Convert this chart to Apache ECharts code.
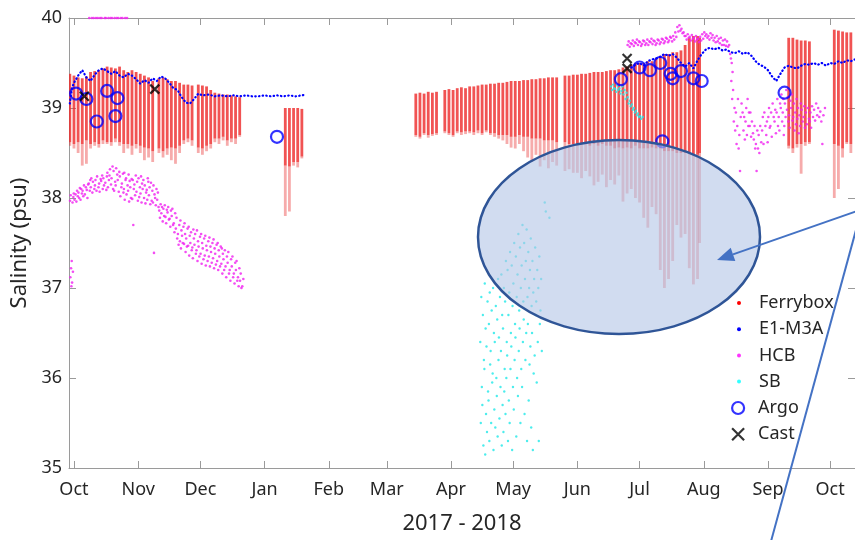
<!DOCTYPE html>
<html>
<head>
<meta charset="utf-8">
<script src="https://cdn.jsdelivr.net/npm/echarts@6/dist/echarts.min.js"></script>
<style>
  html, body { margin: 0; padding: 0; background: #fff; }
  #chart { width: 855px; height: 540px; }
</style>
</head>
<body>
<div id="chart"></div>
<script>
// x axis ticks (first of each month) and their labels
const monthTicks = ['2017-10-01', '2017-11-01', '2017-12-01', '2018-01-01', '2018-02-01', '2018-03-01',
  '2018-04-01', '2018-05-01', '2018-06-01', '2018-07-01', '2018-08-01', '2018-09-01', '2018-10-01'];
const monthLabels = ['Oct', 'Nov', 'Dec', 'Jan', 'Feb', 'Mar', 'Apr', 'May', 'Jun', 'Jul', 'Aug', 'Sep', 'Oct'];
const salinityTicks = [35, 36, 37, 38, 39, 40];

// Ferrybox crossings: [date, deepest value, bottom of dense part, top value]
const ferrybox = [
  ['2017-09-29', 38.58, 38.62, 39.38], ['2017-10-01', 38.55, 38.6, 39.36], ['2017-10-03', 38.5, 38.62, 39.34],
  ['2017-10-05', 38.36, 38.6, 39.33], ['2017-10-07', 38.38, 38.64, 39.35], ['2017-10-09', 38.55, 38.6, 39.4],
  ['2017-10-11', 38.58, 38.62, 39.41], ['2017-10-13', 38.56, 38.6, 39.42], ['2017-10-15', 38.6, 38.64, 39.44],
  ['2017-10-17', 38.6, 38.62, 39.46], ['2017-10-19', 38.58, 38.62, 39.45], ['2017-10-21', 38.62, 38.66, 39.44],
  ['2017-10-23', 38.58, 38.62, 39.46], ['2017-10-25', 38.5, 38.6, 39.42], ['2017-10-27', 38.55, 38.6, 39.4],
  ['2017-10-29', 38.48, 38.58, 39.42], ['2017-10-31', 38.55, 38.6, 39.4], ['2017-11-02', 38.5, 38.58, 39.38],
  ['2017-11-04', 38.42, 38.56, 39.36], ['2017-11-06', 38.45, 38.55, 39.34], ['2017-11-08', 38.4, 38.52, 39.3],
  ['2017-11-11', 38.5, 38.55, 39.33], ['2017-11-13', 38.45, 38.52, 39.34], ['2017-11-15', 38.48, 38.55, 39.32],
  ['2017-11-17', 38.42, 38.56, 39.3], ['2017-11-19', 38.38, 38.55, 39.3], ['2017-11-21', 38.5, 38.58, 39.28],
  ['2017-11-23', 38.6, 38.64, 39.26], ['2017-11-25', 38.62, 38.66, 39.26], ['2017-11-27', 38.58, 38.64, 39.25],
  ['2017-11-30', 38.5, 38.56, 39.26], ['2017-12-02', 38.48, 38.55, 39.25], ['2017-12-04', 38.52, 38.58, 39.24],
  ['2017-12-06', 38.55, 38.6, 39.2], ['2017-12-08', 38.62, 38.66, 39.17], ['2017-12-10', 38.6, 38.66, 39.16],
  ['2017-12-12', 38.64, 38.68, 39.15], ['2017-12-14', 38.58, 38.64, 39.15], ['2017-12-16', 38.62, 38.66, 39.14],
  ['2017-12-18', 38.6, 38.66, 39.13], ['2017-12-20', 38.68, 38.7, 39.12],
  ['2018-01-11', 37.8, 38.36, 39.0], ['2018-01-13', 37.85, 38.35, 39.0], ['2018-01-15', 38.36, 38.4, 39.0],
  ['2018-01-17', 38.34, 38.4, 39.0], ['2018-01-19', 38.44, 38.46, 38.99],
  ['2018-03-15', 38.68, 38.7, 39.16], ['2018-03-17', 38.66, 38.68, 39.17], ['2018-03-19', 38.7, 38.72, 39.16],
  ['2018-03-21', 38.67, 38.7, 39.18], ['2018-03-23', 38.69, 38.71, 39.17], ['2018-03-25', 38.7, 38.72, 39.18],
  ['2018-03-29', 38.72, 38.74, 39.2], ['2018-03-31', 38.7, 38.72, 39.21], ['2018-04-02', 38.68, 38.7, 39.2],
  ['2018-04-04', 38.72, 38.74, 39.22], ['2018-04-06', 38.7, 38.73, 39.23], ['2018-04-08', 38.71, 38.74, 39.22],
  ['2018-04-10', 38.72, 38.74, 39.24], ['2018-04-12', 38.7, 38.73, 39.24], ['2018-04-14', 38.72, 38.75, 39.25],
  ['2018-04-16', 38.7, 38.72, 39.26], ['2018-04-18', 38.73, 38.75, 39.26], ['2018-04-20', 38.7, 38.72, 39.27],
  ['2018-04-22', 38.68, 38.72, 39.27], ['2018-04-24', 38.66, 38.7, 39.28], ['2018-04-26', 38.64, 38.7, 39.28],
  ['2018-04-28', 38.6, 38.7, 39.29], ['2018-04-30', 38.56, 38.68, 39.3], ['2018-05-02', 38.55, 38.68, 39.3],
  ['2018-05-04', 38.6, 38.7, 39.3], ['2018-05-06', 38.52, 38.68, 39.31], ['2018-05-08', 38.45, 38.68, 39.31],
  ['2018-05-10', 38.4, 38.66, 39.32], ['2018-05-12', 38.48, 38.66, 39.32], ['2018-05-14', 38.35, 38.66, 39.33],
  ['2018-05-16', 38.42, 38.64, 39.33], ['2018-05-18', 38.33, 38.64, 39.34], ['2018-05-20', 38.4, 38.64, 39.34],
  ['2018-05-22', 38.36, 38.62, 39.34], ['2018-05-26', 38.3, 38.62, 39.36], ['2018-05-28', 38.32, 38.6, 39.36],
  ['2018-05-30', 38.28, 38.6, 39.37], ['2018-06-01', 38.28, 38.6, 39.37], ['2018-06-03', 38.22, 38.6, 39.38],
  ['2018-06-05', 38.3, 38.6, 39.38], ['2018-06-07', 38.24, 38.58, 39.39], ['2018-06-09', 38.14, 38.6, 39.4],
  ['2018-06-11', 38.18, 38.58, 39.4], ['2018-06-13', 38.26, 38.6, 39.4], ['2018-06-15', 38.12, 38.58, 39.41],
  ['2018-06-17', 38.2, 38.58, 39.42], ['2018-06-19', 38.15, 38.55, 39.42], ['2018-06-21', 38.25, 38.56, 39.43],
  ['2018-06-23', 37.96, 38.55, 39.45], ['2018-06-25', 38.05, 38.56, 39.46], ['2018-06-27', 38.1, 38.55, 39.48],
  ['2018-06-29', 38.0, 38.58, 39.5], ['2018-07-01', 37.95, 38.55, 39.5], ['2018-07-03', 37.78, 38.55, 39.5],
  ['2018-07-05', 37.67, 38.55, 39.52], ['2018-07-07', 37.9, 38.56, 39.52], ['2018-07-09', 37.82, 38.55, 39.55],
  ['2018-07-11', 37.2, 38.55, 39.58], ['2018-07-13', 37.0, 38.52, 39.6], ['2018-07-15', 37.1, 38.52, 39.6],
  ['2018-07-17', 37.3, 38.52, 39.62], ['2018-07-19', 37.7, 38.5, 39.62], ['2018-07-21', 37.56, 38.5, 39.64],
  ['2018-07-23', 37.6, 38.5, 39.7], ['2018-07-25', 37.22, 38.5, 39.78], ['2018-07-27', 37.04, 38.48, 39.8],
  ['2018-07-29', 37.1, 38.48, 39.8], ['2018-07-30', 37.5, 38.5, 39.78],
  ['2018-09-11', 38.55, 38.58, 39.78], ['2018-09-13', 38.5, 38.55, 39.78], ['2018-09-15', 38.56, 38.6, 39.76],
  ['2018-09-17', 38.27, 38.6, 39.75], ['2018-09-19', 38.58, 38.62, 39.75], ['2018-09-21', 38.6, 38.62, 39.74],
  ['2018-10-03', 38.0, 38.6, 39.87], ['2018-10-05', 38.1, 38.58, 39.86], ['2018-10-07', 38.45, 38.55, 39.85],
  ['2018-10-09', 38.6, 38.62, 39.84], ['2018-10-11', 38.5, 38.6, 39.84]
];

// E1-M3A mooring
const e1First = [
  ['2017-09-29', 39.05], ['2017-09-30', 39.22], ['2017-10-01', 39.28], ['2017-10-03', 39.36], ['2017-10-05', 39.42],
  ['2017-10-07', 39.34], ['2017-10-09', 39.3], ['2017-10-11', 39.37], ['2017-10-13', 39.42], ['2017-10-15', 39.44],
  ['2017-10-17', 39.41], ['2017-10-19', 39.38], ['2017-10-21', 39.41], ['2017-10-23', 39.36], ['2017-10-25', 39.34],
  ['2017-10-27', 39.38], ['2017-10-29', 39.36], ['2017-10-31', 39.32], ['2017-11-02', 39.27], ['2017-11-04', 39.31],
  ['2017-11-06', 39.28], ['2017-11-08', 39.33], ['2017-11-10', 39.3], ['2017-11-12', 39.35], ['2017-11-14', 39.33],
  ['2017-11-16', 39.28], ['2017-11-18', 39.22], ['2017-11-20', 39.2], ['2017-11-22', 39.12], ['2017-11-24', 39.06],
  ['2017-11-26', 39.05], ['2017-11-28', 39.1], ['2017-11-30', 39.16], ['2017-12-02', 39.14], ['2017-12-05', 39.15],
  ['2017-12-08', 39.13], ['2017-12-11', 39.14], ['2017-12-14', 39.13], ['2017-12-17', 39.14], ['2017-12-20', 39.13],
  ['2017-12-23', 39.14], ['2017-12-26', 39.13], ['2017-12-29', 39.13], ['2018-01-01', 39.14], ['2018-01-04', 39.13],
  ['2018-01-07', 39.14], ['2018-01-10', 39.13], ['2018-01-13', 39.14], ['2018-01-16', 39.13], ['2018-01-19', 39.14],
  ['2018-01-21', 39.15]
];
const e1Second = [
  ['2018-06-27', 39.45], ['2018-06-29', 39.48], ['2018-07-01', 39.5], ['2018-07-03', 39.47], ['2018-07-05', 39.52],
  ['2018-07-07', 39.54], ['2018-07-09', 39.55], ['2018-07-11', 39.57], ['2018-07-13', 39.6], ['2018-07-15', 39.58],
  ['2018-07-17', 39.6], ['2018-07-19', 39.56], ['2018-07-21', 39.5], ['2018-07-23', 39.46], ['2018-07-25', 39.5],
  ['2018-07-27', 39.44], ['2018-07-29', 39.53], ['2018-07-31', 39.6], ['2018-08-02', 39.65], ['2018-08-04', 39.67],
  ['2018-08-06', 39.65], ['2018-08-08', 39.67], ['2018-08-10', 39.64], ['2018-08-12', 39.65], ['2018-08-14', 39.62],
  ['2018-08-16', 39.61], ['2018-08-18', 39.63], ['2018-08-20', 39.6], ['2018-08-22', 39.62], ['2018-08-24', 39.58],
  ['2018-08-26', 39.52], ['2018-08-28', 39.48], ['2018-08-30', 39.46], ['2018-09-01', 39.42], ['2018-09-03', 39.35],
  ['2018-09-05', 39.3], ['2018-09-07', 39.38], ['2018-09-09', 39.45], ['2018-09-11', 39.47], ['2018-09-13', 39.45],
  ['2018-09-15', 39.44], ['2018-09-17', 39.47], ['2018-09-19', 39.49], ['2018-09-21', 39.48], ['2018-09-23', 39.5],
  ['2018-09-25', 39.48], ['2018-09-27', 39.5], ['2018-09-29', 39.47], ['2018-10-01', 39.5], ['2018-10-03', 39.49],
  ['2018-10-05', 39.52], ['2018-10-07', 39.5], ['2018-10-09', 39.53], ['2018-10-11', 39.52], ['2018-10-13', 39.54]
];

// HCB glider, readings per day
const hcb = [
  ['2017-09-29', [37.97, 37.12, 38.03, 37.22, 37.02, 37.3]], ['2017-09-30', [37.06, 37.95, 37.18, 38.01, 38.05]],
  ['2017-10-01', [37.98, 38.04]], ['2017-10-02', [37.96, 38.08, 38.02]], ['2017-10-03', [38.06, 38.0, 38.11]],
  ['2017-10-04', [37.98, 38.1, 38.05]], ['2017-10-05', [38.08, 38.02, 38.14]], ['2017-10-06', [38.04, 38.12]],
  ['2017-10-07', [38.09, 38.0, 38.15]], ['2017-10-08', [38.16, 40.0, 38.08, 38.2]], ['2017-10-09', [38.12, 38.22, 40.0, 38.06]],
  ['2017-10-10', [38.18, 40.0, 38.1]], ['2017-10-11', [38.14, 38.2, 40.0, 38.08]], ['2017-10-12', [38.24, 40.0, 38.12]],
  ['2017-10-13', [38.16, 38.07, 40.0, 38.21]], ['2017-10-14', [38.19, 40.0, 38.25, 38.1]], ['2017-10-15', [38.22, 38.14, 40.0]],
  ['2017-10-16', [38.17, 40.0, 38.09, 38.24]], ['2017-10-17', [38.28, 38.12, 40.0, 38.2]], ['2017-10-18', [38.25, 38.32, 40.0, 38.15]],
  ['2017-10-19', [38.22, 40.0, 38.35, 38.1]], ['2017-10-20', [38.3, 38.08, 40.0, 38.18]], ['2017-10-21', [38.14, 38.33, 40.0, 38.26]],
  ['2017-10-22', [38.2, 40.0, 38.07, 38.29]], ['2017-10-23', [38.24, 38.02, 40.0, 38.12]], ['2017-10-24', [38.16, 40.0, 38.27, 38.06]],
  ['2017-10-25', [38.1, 38.28, 37.98, 40.0, 38.2]], ['2017-10-26', [38.22, 38.04, 40.0, 38.14]], ['2017-10-27', [38.08, 38.26, 37.96, 38.19]],
  ['2017-10-28', [38.12, 38.0, 38.21]], ['2017-10-29', [37.99, 38.2, 37.7, 38.1]], ['2017-10-30', [38.15, 38.03, 38.25]],
  ['2017-10-31', [38.07, 38.18, 37.97]], ['2017-11-01', [38.22, 38.01, 38.12]], ['2017-11-02', [38.05, 38.24, 37.95, 38.16]],
  ['2017-11-03', [38.1, 38.2, 38.0]], ['2017-11-04', [38.14, 37.94, 38.06]], ['2017-11-05', [38.09, 37.98, 38.22, 38.18]],
  ['2017-11-06', [38.03, 38.12, 37.93]], ['2017-11-07', [38.17, 37.97, 38.08]], ['2017-11-08', [37.95, 38.14, 37.39, 38.04]],
  ['2017-11-09', [38.0, 37.92, 38.1]], ['2017-11-10', [37.98, 38.06, 37.9]], ['2017-11-11', [37.86, 37.78, 37.93]],
  ['2017-11-12', [37.83, 37.9, 37.74]], ['2017-11-13', [37.88, 37.8, 37.92]], ['2017-11-14', [37.79, 37.72, 37.87]],
  ['2017-11-15', [37.84, 37.9, 37.76]], ['2017-11-16', [37.77, 37.68, 37.86]], ['2017-11-17', [37.8, 37.88, 37.7]],
  ['2017-11-18', [37.72, 37.62, 37.83]], ['2017-11-19', [37.66, 37.78, 37.55]], ['2017-11-20', [37.6, 37.48, 37.7]],
  ['2017-11-21', [37.52, 37.75, 37.44, 37.64]], ['2017-11-22', [37.58, 37.5, 37.68]], ['2017-11-23', [37.49, 37.72, 37.6, 37.4]],
  ['2017-11-24', [37.55, 37.46, 37.66]], ['2017-11-25', [37.47, 37.68, 37.36, 37.58]], ['2017-11-26', [37.5, 37.62, 37.42]],
  ['2017-11-27', [37.45, 37.33, 37.65, 37.55]], ['2017-11-28', [37.48, 37.6, 37.38]], ['2017-11-29', [37.42, 37.64, 37.3, 37.52]],
  ['2017-11-30', [37.46, 37.35, 37.57]], ['2017-12-01', [37.38, 37.6, 37.27, 37.5]], ['2017-12-02', [37.44, 37.32, 37.55]],
  ['2017-12-03', [37.36, 37.58, 37.25, 37.47]], ['2017-12-04', [37.42, 37.3, 37.52]], ['2017-12-05', [37.35, 37.56, 37.24, 37.46]],
  ['2017-12-06', [37.4, 37.28, 37.5]], ['2017-12-07', [37.33, 37.54, 37.22, 37.44]], ['2017-12-08', [37.38, 37.26, 37.48]],
  ['2017-12-09', [37.3, 37.5, 37.2, 37.42]], ['2017-12-10', [37.35, 37.24, 37.46]], ['2017-12-11', [37.27, 37.44, 37.16, 37.38]],
  ['2017-12-12', [37.32, 37.2, 37.42]], ['2017-12-13', [37.24, 37.12, 37.35]], ['2017-12-14', [37.28, 37.4, 37.16]],
  ['2017-12-15', [37.2, 37.08, 37.32]], ['2017-12-16', [37.24, 37.35, 37.12]], ['2017-12-17', [37.16, 37.05, 37.28]],
  ['2017-12-18', [37.2, 37.3, 37.08]], ['2017-12-19', [37.12, 37.02, 37.22]], ['2017-12-20', [37.08, 37.16, 37.0]],
  ['2017-12-21', [37.02, 37.1]],
  ['2018-06-25', [39.7, 39.74]], ['2018-06-26', [39.68, 39.72]], ['2018-06-27', [39.71, 39.75]], ['2018-06-28', [39.69, 39.73]],
  ['2018-06-29', [39.72, 39.76]], ['2018-06-30', [39.7, 39.74]], ['2018-07-01', [39.73, 39.69]], ['2018-07-02', [39.71, 39.75]],
  ['2018-07-03', [39.74, 39.7]], ['2018-07-04', [39.72, 39.76]], ['2018-07-05', [39.7, 39.74]], ['2018-07-06', [39.73, 39.77]],
  ['2018-07-07', [39.71, 39.75]], ['2018-07-08', [39.74, 39.7]], ['2018-07-09', [39.72, 39.76]], ['2018-07-10', [39.75, 39.71]],
  ['2018-07-11', [39.73, 39.77]], ['2018-07-12', [39.76, 39.72]], ['2018-07-13', [39.74, 39.78]], ['2018-07-14', [39.77, 39.73]],
  ['2018-07-15', [39.75, 39.79]], ['2018-07-16', [39.78, 39.74]], ['2018-07-17', [39.8, 39.76]], ['2018-07-18', [39.84, 39.79]],
  ['2018-07-19', [39.9, 39.85]], ['2018-07-20', [39.92, 39.86]], ['2018-07-21', [39.88, 39.83]], ['2018-07-22', [39.84, 39.8]],
  ['2018-07-23', [39.8, 39.76]], ['2018-07-24', [39.82, 39.78]], ['2018-07-25', [39.79, 39.75]], ['2018-07-26', [39.81, 39.77]],
  ['2018-07-27', [39.78, 39.74]], ['2018-07-28', [39.8, 39.76]], ['2018-07-29', [39.77, 39.73]], ['2018-07-30', [39.79, 39.75]],
  ['2018-07-31', [39.82, 39.77]], ['2018-08-01', [39.84, 39.8]], ['2018-08-02', [39.82, 39.78]], ['2018-08-03', [39.8, 39.76]],
  ['2018-08-04', [39.83, 39.78]], ['2018-08-05', [39.81, 39.75]], ['2018-08-06', [39.78, 39.73]], ['2018-08-07', [39.8, 39.74]],
  ['2018-08-08', [39.77, 39.72]], ['2018-08-09', [39.78, 39.7]], ['2018-08-10', [39.75, 39.7]], ['2018-08-11', [39.76, 39.69]],
  ['2018-08-12', [39.74, 39.68]], ['2018-08-13', [39.7, 39.6]], ['2018-08-14', [39.55, 39.3, 39.5, 39.1, 39.4]],
  ['2018-08-15', [39.2, 38.85, 39.0]], ['2018-08-16', [38.75, 38.95, 38.6]], ['2018-08-17', [38.8, 39.1, 38.55]],
  ['2018-08-18', [38.7, 38.3, 38.9]], ['2018-08-19', [39.05, 38.95]], ['2018-08-20', [38.75, 38.9, 38.65]],
  ['2018-08-21', [38.85, 39.0, 38.7]], ['2018-08-22', [39.1, 38.8, 38.95]], ['2018-08-23', [38.8, 38.95, 38.68]],
  ['2018-08-24', [38.85, 38.72]], ['2018-08-25', [38.65, 38.8, 38.55]], ['2018-08-26', [38.6, 38.3, 38.75]],
  ['2018-08-27', [38.55, 38.7, 38.5]], ['2018-08-28', [38.8, 38.62]], ['2018-08-29', [38.75, 38.9, 38.6]],
  ['2018-08-30', [38.95, 38.8]], ['2018-08-31', [38.7, 38.85, 38.62]], ['2018-09-01', [38.9, 39.0, 38.78]],
  ['2018-09-02', [38.8, 38.95, 38.68]], ['2018-09-03', [39.05, 38.9]], ['2018-09-04', [38.85, 38.98, 38.72]],
  ['2018-09-05', [38.95, 39.1, 38.8]], ['2018-09-06', [38.9, 38.75, 39.05]], ['2018-09-07', [39.0, 39.15, 38.85]],
  ['2018-09-08', [38.95, 39.1, 38.7, 38.8]], ['2018-09-09', [39.05, 38.9, 39.2]], ['2018-09-10', [38.98, 39.12, 38.85]],
  ['2018-09-11', [38.92, 38.78, 39.08]], ['2018-09-12', [39.0, 39.15, 38.86]], ['2018-09-13', [38.9, 39.05, 38.75]],
  ['2018-09-14', [38.95, 38.82, 39.1]], ['2018-09-15', [38.88, 39.0, 38.72]], ['2018-09-16', [38.92, 38.8, 39.05]],
  ['2018-09-17', [38.98, 38.85]], ['2018-09-18', [38.9, 39.02, 38.78]], ['2018-09-19', [38.95, 38.82]],
  ['2018-09-20', [39.0, 38.88]], ['2018-09-21', [38.85, 38.95, 38.78]], ['2018-09-22', [39.02, 38.9]],
  ['2018-09-23', [38.98, 38.86]], ['2018-09-24', [39.05, 38.92]], ['2018-09-25', [39.0, 38.9]],
  ['2018-09-26', [38.96, 38.85]], ['2018-09-27', [38.6, 38.92]], ['2018-09-28', [39.0]]
];

// SB glider, readings per day
const sb = [
  ['2018-04-15', [36.4, 35.5, 36.9, 35.9]], ['2018-04-16', [35.7, 36.7, 35.25, 36.2]], ['2018-04-17', [36.1, 37.05, 35.15, 36.55, 35.6]],
  ['2018-04-18', [36.35, 35.4, 36.85, 35.85]], ['2018-04-19', [35.75, 36.6, 35.3, 36.95, 36.15]], ['2018-04-20', [36.3, 35.5, 36.75, 35.95]],
  ['2018-04-21', [36.05, 37.0, 35.2, 36.5, 35.65]], ['2018-04-22', [36.4, 35.45, 36.8, 36.0]], ['2018-04-23', [35.8, 36.65, 35.35, 37.1, 36.2]],
  ['2018-04-24', [36.45, 35.55, 36.9, 35.9]], ['2018-04-25', [36.3, 37.15, 35.25, 36.7, 35.7]], ['2018-04-26', [36.55, 35.4, 37.0, 35.85, 36.1]],
  ['2018-04-27', [36.85, 35.6, 37.3, 36.0, 36.4]], ['2018-04-28', [36.25, 37.2, 35.3, 36.7, 35.75]], ['2018-04-29', [36.95, 35.5, 37.4, 36.1, 36.5]],
  ['2018-04-30', [36.35, 37.25, 35.2, 36.8, 35.9]], ['2018-05-01', [37.05, 35.65, 37.5, 36.2, 36.6]], ['2018-05-02', [36.45, 37.35, 35.35, 36.9, 36.0]],
  ['2018-05-03', [37.15, 35.8, 37.6, 36.3, 36.75]], ['2018-05-04', [36.55, 37.45, 35.5, 37.0, 36.1]], ['2018-05-05', [37.25, 35.9, 37.7, 36.4, 36.85]],
  ['2018-05-06', [36.65, 37.5, 35.6, 37.1, 36.2]], ['2018-05-07', [37.3, 36.5, 37.65, 35.3, 36.9]], ['2018-05-08', [36.6, 37.4, 35.75, 37.0, 36.15]],
  ['2018-05-09', [37.2, 36.35, 37.55, 35.45, 36.8]], ['2018-05-10', [36.5, 37.3, 35.2, 36.95, 36.05]], ['2018-05-11', [37.1, 36.25, 37.45, 36.7]],
  ['2018-05-12', [36.85, 35.95, 37.2, 36.4]], ['2018-05-13', [37.0, 35.3, 37.35, 36.6]], ['2018-05-14', [36.75, 37.1, 36.3]],
  ['2018-05-16', [37.95, 37.85]], ['2018-05-18', [37.78]],
  ['2018-06-17', [39.24, 39.2]], ['2018-06-18', [39.26, 39.22]], ['2018-06-19', [39.21, 39.18]], ['2018-06-20', [39.25, 39.2]],
  ['2018-06-21', [39.22, 39.16]], ['2018-06-22', [39.19, 39.24]], ['2018-06-23', [39.15, 39.2]], ['2018-06-24', [39.1, 39.17]],
  ['2018-06-25', [39.12, 39.05]], ['2018-06-26', [39.08, 39.02]], ['2018-06-27', [39.04, 38.98]], ['2018-06-28', [39.0, 38.95]],
  ['2018-06-29', [38.97, 38.92]], ['2018-06-30', [38.94, 38.9]], ['2018-07-01', [38.91, 38.88]], ['2018-07-02', [38.9]]
];

// Argo floats and CTD casts
const argo = [
  ['2017-10-02', 39.16], ['2017-10-07', 39.1], ['2017-10-12', 38.85], ['2017-10-17', 39.19], ['2017-10-21', 38.91],
  ['2017-10-22', 39.11], ['2018-01-07', 38.68], ['2018-06-22', 39.32], ['2018-07-01', 39.45], ['2018-07-06', 39.42],
  ['2018-07-11', 39.5], ['2018-07-12', 38.63], ['2018-07-16', 39.38], ['2018-07-17', 39.33], ['2018-07-21', 39.41],
  ['2018-07-27', 39.33], ['2018-07-31', 39.3], ['2018-09-09', 39.17]
];
const cast = [['2017-10-06', 39.13], ['2017-11-09', 39.21], ['2018-06-25', 39.55], ['2018-06-25', 39.44]];

const DAY = 86400000;
function toTime(s) {
  const p = s.split(/[- :]/).map(Number);
  return new Date(p[0], p[1] - 1, p[2], p[3] || 0, p[4] || 0).getTime();
}
function pairs(list) {
  return list.map(d => [toTime(d[0]), d[1]]);
}
// the readings of one day are taken in turn through that day
function spread(list) {
  const out = [];
  list.forEach(d => {
    const n = d[1].length;
    d[1].forEach((v, i) => out.push([toTime(d[0]) + (i + 0.5) / n * DAY, v]));
  });
  return out;
}

const tickTimes = monthTicks.map(toTime);
const xMin = toTime('2017-09-28 14:24');
const xMax = toTime('2018-10-13');
const font = 'Noto Sans';
const textColor = '#262626';
const axisColor = '#9a9a9a';
const crossPath = 'path://M0,0L10,10M10,0L0,10';

const chart = echarts.init(document.getElementById('chart'));

chart.setOption({
  animation: false,
  backgroundColor: '#fff',
  grid: { left: 69, top: 18, width: 788, height: 454 },
  xAxis: [
    {
      type: 'value', min: xMin, max: xMax,
      name: '2017 - 2018', nameLocation: 'middle', nameGap: 45,
      nameTextStyle: { fontFamily: font, fontSize: 22, color: textColor },
      axisLine: { lineStyle: { color: axisColor } },
      axisTick: { inside: true, length: 7, customValues: tickTimes, lineStyle: { color: axisColor } },
      axisLabel: {
        customValues: tickTimes, margin: 13, fontFamily: font, fontSize: 18, color: textColor,
        formatter: v => monthLabels[tickTimes.indexOf(v)] || ''
      },
      splitLine: { show: false }
    },
    {
      type: 'value', position: 'top', min: xMin, max: xMax,
      axisLine: { lineStyle: { color: axisColor } },
      axisTick: { inside: true, length: 7, customValues: tickTimes, lineStyle: { color: axisColor } },
      axisLabel: { show: false },
      splitLine: { show: false }
    }
  ],
  yAxis: [
    {
      type: 'value', min: salinityTicks[0], max: salinityTicks[salinityTicks.length - 1], interval: 1,
      name: 'Salinity (psu)', nameLocation: 'middle', nameGap: 36,
      nameTextStyle: { fontFamily: font, fontSize: 22, color: textColor },
      axisLine: { show: true, lineStyle: { color: axisColor } },
      axisTick: { show: true, inside: true, length: 7, lineStyle: { color: axisColor } },
      axisLabel: { margin: 7, fontFamily: font, fontSize: 18, color: textColor },
      splitLine: { show: false }
    },
    {
      type: 'value', position: 'right', min: 35, max: 40, interval: 1,
      axisLine: { show: true, lineStyle: { color: axisColor } },
      axisTick: { show: true, inside: true, length: 7, lineStyle: { color: axisColor } },
      axisLabel: { show: false },
      splitLine: { show: false }
    }
  ],
  legend: [
    {
      orient: 'vertical', left: 737, top: 293, padding: 0, itemGap: 6.2,
      itemWidth: 30, itemHeight: 4, selectedMode: false,
      textStyle: { fontFamily: font, fontSize: 18, color: textColor, lineHeight: 20 },
      data: [
        { name: 'Ferrybox', icon: 'circle', itemStyle: { color: '#ff0000' } },
        { name: 'E1-M3A', icon: 'circle', itemStyle: { color: '#0000ff' } },
        { name: 'HCB', icon: 'circle', itemStyle: { color: '#ff00ff' } },
        { name: 'SB', icon: 'circle', itemStyle: { color: '#00ffff' } }
      ]
    },
    {
      orient: 'vertical', left: 731, top: 398, padding: 0, itemGap: 6.2,
      itemWidth: 30, itemHeight: 12, selectedMode: false,
      textStyle: { fontFamily: font, fontSize: 18, color: textColor, lineHeight: 20 },
      data: [
        { name: 'Argo', icon: 'circle', itemStyle: { color: 'rgba(0,0,0,0)', borderColor: '#0000ff', borderWidth: 2.2 } },
        { name: 'Cast', icon: crossPath, itemStyle: { color: 'rgba(0,0,0,0)', borderColor: '#000', borderWidth: 2.2 } }
      ]
    }
  ],
  series: [
    {
      name: 'Ferrybox', type: 'custom', clip: true,
      encode: { x: 0, y: [1, 2, 3] },
      data: ferrybox.map(d => [toTime(d[0]), d[1], d[2], d[3]]),
      renderItem: function (params, api) {
        const top = api.coord([api.value(0), api.value(3)]);
        const core = api.coord([api.value(0), api.value(2)]);
        const tail = api.coord([api.value(0), api.value(1)]);
        const w = 2.8;
        return {
          type: 'group',
          children: [
            { type: 'rect', shape: { x: top[0] - w / 2, y: core[1], width: w, height: tail[1] - core[1] },
              style: { fill: 'rgba(232,45,45,0.4)' } },
            { type: 'rect', shape: { x: top[0] - w / 2, y: top[1], width: w, height: core[1] - top[1] },
              style: { fill: 'rgba(238,40,40,0.8)' } }
          ]
        };
      }
    },
    {
      name: 'E1-M3A', type: 'line', showSymbol: false, data: pairs(e1First),
      lineStyle: { color: '#0000ff', width: 2.2, type: [0.5, 3.2], cap: 'round' }
    },
    {
      name: 'E1-M3A', type: 'line', showSymbol: false, data: pairs(e1Second),
      lineStyle: { color: '#0000ff', width: 2.2, type: [0.5, 3.2], cap: 'round' }
    },
    {
      name: 'HCB', type: 'scatter', symbolSize: 2.6, data: spread(hcb),
      itemStyle: { color: '#f020f0' }
    },
    {
      name: 'SB', type: 'scatter', symbolSize: 2.4, data: spread(sb),
      itemStyle: { color: '#20e8e8', opacity: 0.8 }
    },
    {
      name: 'Argo', type: 'scatter', symbol: 'circle', symbolSize: 12, data: pairs(argo),
      itemStyle: { color: 'rgba(0,0,0,0)', borderColor: '#0000ff', borderWidth: 2.2 }
    },
    {
      name: 'Cast', type: 'scatter', symbol: crossPath, symbolSize: 9, data: pairs(cast),
      itemStyle: { color: 'rgba(0,0,0,0)', borderColor: '#000', borderWidth: 2.2 }
    }
  ],
  // callout drawn over the chart
  graphic: [
    {
      type: 'ellipse', z: 100,
      shape: { cx: 619, cy: 237, rx: 141, ry: 97 },
      style: { fill: 'rgba(180,199,231,0.62)', stroke: '#2f5597', lineWidth: 2.5 }
    },
    {
      type: 'line', z: 101,
      shape: { x1: 880, y1: 203, x2: 733, y2: 254.4 },
      style: { stroke: '#4472c4', lineWidth: 2 }
    },
    {
      type: 'polygon', z: 101,
      shape: { points: [[717, 260], [735.3, 261], [730.7, 247.8]] },
      style: { fill: '#4472c4' }
    },
    {
      type: 'line', z: 101,
      shape: { x1: 880, y1: 142, x2: 770, y2: 545 },
      style: { stroke: '#4472c4', lineWidth: 2 }
    }
  ]
});
</script>
</body>
</html>
